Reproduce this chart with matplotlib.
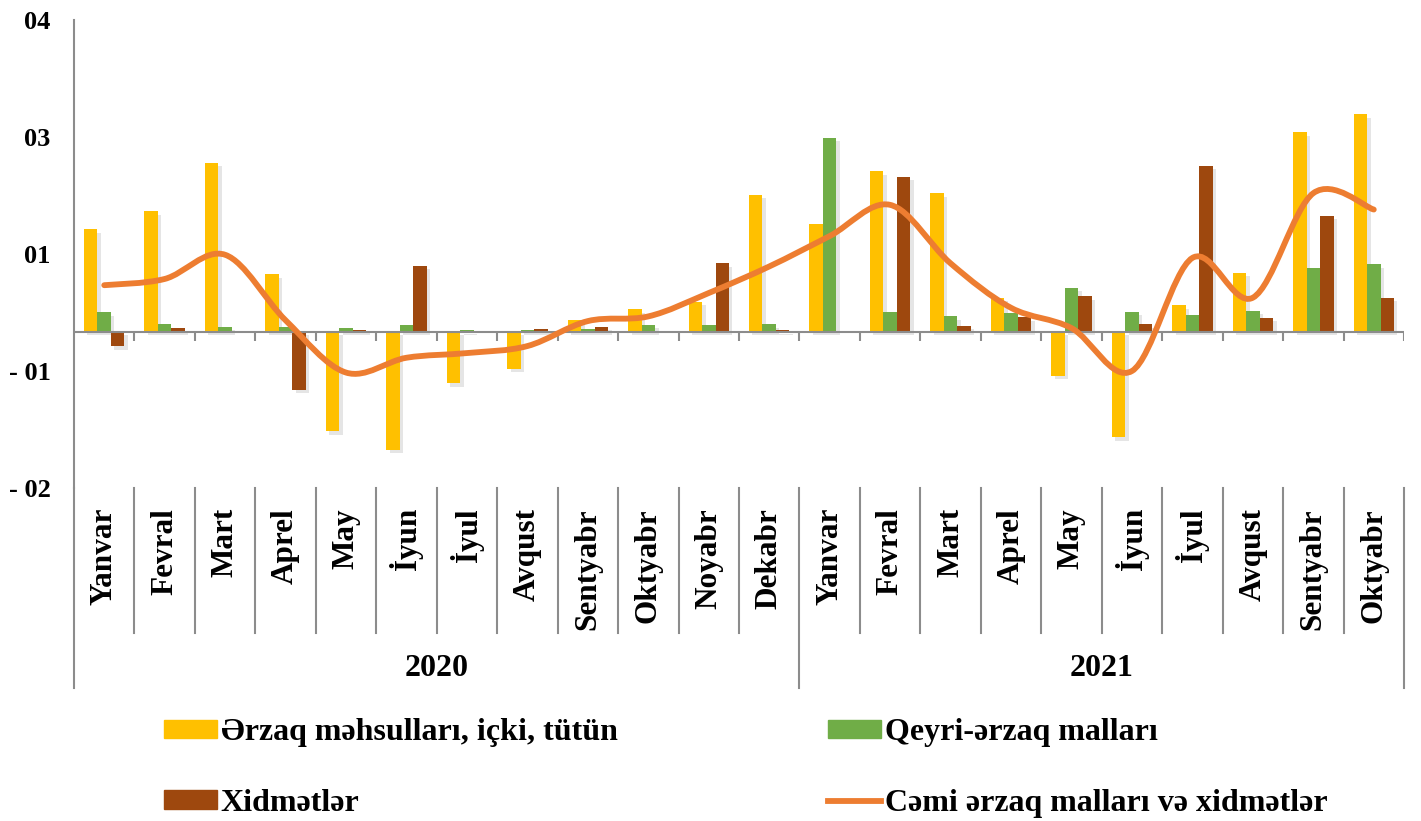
import numpy as np
import matplotlib
matplotlib.use("Agg")
import matplotlib.pyplot as plt
import matplotlib.patheffects as pe
from matplotlib.path import Path
from matplotlib.patches import PathPatch, Patch
from matplotlib.lines import Line2D

plt.rcParams['font.family'] = ['Liberation Serif', 'DejaVu Serif']
plt.rcParams['font.weight'] = 'bold'

# ---------------- data ----------------
months = ['Yanvar', 'Fevral', 'Mart', 'Aprel', 'May', 'İyun', 'İyul', 'Avqust',
          'Sentyabr', 'Oktyabr', 'Noyabr', 'Dekabr',
          'Yanvar', 'Fevral', 'Mart', 'Aprel', 'May', 'İyun', 'İyul', 'Avqust',
          'Sentyabr', 'Oktyabr']
years = ['2020', '2021']
year_counts = [12, 10]

food = [1.32, 1.55, 2.17, 0.74, -1.27, -1.51, -0.66, -0.47, 0.16, 0.29, 0.39, 1.76,
        1.39, 2.06, 1.78, 0.44, -0.56, -1.35, 0.34, 0.76, 2.56, 2.79]
nonfood = [0.25, 0.10, 0.07, 0.06, 0.055, 0.09, 0.02, 0.03, 0.04, 0.09, 0.09, 0.10,
           2.49, 0.26, 0.20, 0.24, 0.57, 0.26, 0.22, 0.27, 0.82, 0.87]
services = [-0.18, 0.05, 0.0, -0.74, 0.03, 0.85, 0.0, 0.04, 0.07, 0.0, 0.88, 0.02,
            0.01, 1.99, 0.08, 0.19, 0.46, 0.10, 2.13, 0.18, 1.49, 0.44]
total = [0.60, 0.68, 0.99, 0.15, -0.52, -0.33, -0.27, -0.18, 0.14, 0.20, 0.50, 0.84,
         1.23, 1.63, 0.88, 0.31, 0.05, -0.50, 0.95, 0.44, 1.78, 1.57]

labels = ['Ərzaq məhsulları, içki, tütün', 'Qeyri-ərzaq malları',
          'Xidmətlər', 'Cəmi ərzaq malları və xidmətlər']
yticks = [-2, -0.5, 1, 2.5, 4]
yticklabels = ['- 02', '- 01', '01', '03', '04']

c_food, c_nonfood, c_serv, c_total = '#FFC000', '#70AD47', '#9E480E', '#ED7D31'
grey = '#8C8C8C'

W, H = 1421, 821
fig = plt.figure(figsize=(W / 100, H / 100), dpi=100)
ax = fig.add_axes([74 / W, 1 - 488 / H, (1404 - 74) / W, 468 / H])

x = np.arange(len(months))
bw = 0.223
shadow = [pe.withSimplePatchShadow(offset=(2.5, -2.5), shadow_rgbFace='#8a8a8a', alpha=0.22)]
for off, vals, col in [(-bw, food, c_food), (0, nonfood, c_nonfood), (bw, services, c_serv)]:
    ax.bar(x + off, vals, width=bw, color=col, zorder=2, path_effects=shadow)

# zero line + small ticks at category borders
ax.axhline(0, color=grey, lw=1.5, zorder=3)
bounds = np.arange(len(months) + 1) - 0.5
ax.vlines(bounds[1:], -0.115, 0, color=grey, lw=1.5, zorder=3)

# smoothed total line (bezier through the points)
pts = np.column_stack([x, total]).astype(float)
ext = np.vstack([pts[0], pts, pts[-1]])
verts = [tuple(pts[0])]
codes = [Path.MOVETO]
for i in range(len(pts) - 1):
    p0, p1, p2, p3 = ext[i], ext[i + 1], ext[i + 2], ext[i + 3]
    verts += [tuple(p1 + (p2 - p0) / 6), tuple(p2 - (p3 - p1) / 6), tuple(p2)]
    codes += [Path.CURVE4] * 3
ax.add_patch(PathPatch(Path(verts, codes), fill=False, edgecolor=c_total, lw=4.2,
                       capstyle='round', zorder=5))

ax.set_xlim(-0.5, len(months) - 0.5)
ax.set_ylim(-2, 4)
for s in ['top', 'right', 'bottom']:
    ax.spines[s].set_visible(False)
ax.spines['left'].set_color(grey)
ax.spines['left'].set_linewidth(1.5)
ax.set_xticks([])
ax.set_yticks(yticks)
ax.set_yticklabels(yticklabels, fontsize=19, fontweight='bold')
ax.tick_params(axis='y', length=0, pad=17)

# multi-level category axis
tr = ax.get_xaxis_transform()
year_edges = np.concatenate([[0], np.cumsum(year_counts)]) - 0.5
for b in bounds:
    low = -0.427 if b in year_edges else -0.31
    ax.plot([b, b], [0, low], color=grey, lw=1.5, transform=tr, clip_on=False)
for i, m in enumerate(months):
    ax.text(i, -0.043, m, rotation=90, ha='center', va='top', fontsize=22.5,
            fontweight='bold', transform=tr)
for k, yr in enumerate(years):
    ax.text((year_edges[k] + year_edges[k + 1]) / 2, -0.385, yr, ha='center',
            va='center', fontsize=23, fontweight='bold', transform=tr)

# legend in two columns
h_food = Patch(color=c_food)
h_non = Patch(color=c_nonfood)
h_serv = Patch(color=c_serv)
h_tot = Line2D([], [], color=c_total, lw=4.2)
leg_kw = dict(loc='center left', frameon=False, borderpad=0, borderaxespad=0,
              handlelength=1.65, handleheight=0.5, handletextpad=0.12,
              labelspacing=1.3, prop={'size': 23, 'weight': 'bold'})
leg1 = fig.legend([h_food, h_serv], [labels[0], labels[2]],
                  bbox_to_anchor=(164 / W, 1 - 768 / H), **leg_kw)
leg2 = fig.legend([h_non, h_tot], [labels[1], labels[3]],
                  bbox_to_anchor=(828 / W, 1 - 768 / H), **leg_kw)

fig.savefig('out.png', dpi=100)
